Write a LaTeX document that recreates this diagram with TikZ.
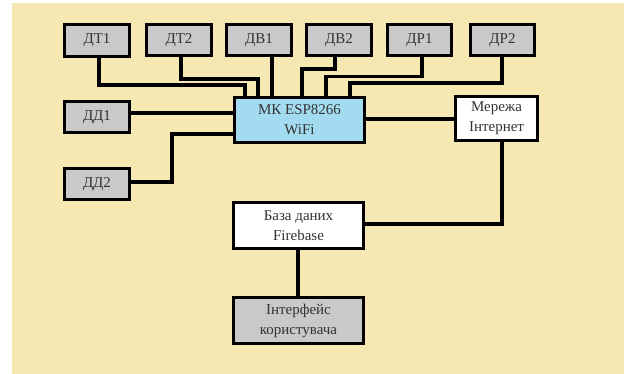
\documentclass[tikz,border=0pt]{standalone}
\usepackage{fontspec}
\setmainfont{Liberation Serif}
\definecolor{bgcream}{HTML}{F5E8B3}
\definecolor{boxgray}{HTML}{C9C9C9}
\definecolor{mkblue}{HTML}{A3DCF0}
\definecolor{txt}{HTML}{333333}
\tikzset{
  blk/.style={draw=black, line width=3.4pt, inner sep=0pt, align=center, text=txt,
    font=\fontsize{15}{20}\selectfont},
  sens/.style={blk, fill=boxgray, minimum width=64.5pt, minimum height=31.5pt},
  wide/.style={blk, minimum width=129.5pt, minimum height=44.5pt},
  wire/.style={line width=3.4pt, draw=black}
}
\begin{document}
\begin{tikzpicture}[x=1pt,y=-1pt]
\useasboundingbox (0,0) rectangle (624,374);
\fill[white] (0,0) rectangle (624,374);
\fill[bgcream] (12,3) rectangle (624,374);

\node[sens] (dt1) at (97,40.5) {ДТ1};
\node[sens] (dt2) at (179,40) {ДТ2};
\node[sens] (dv1) at (259,40) {ДВ1};
\node[sens] (dv2) at (339,40) {ДВ2};
\node[sens] (dr1) at (419.5,40) {ДР1};
\node[sens] (dr2) at (502.5,40) {ДР2};
\node[sens] (dd1) at (97,117) {ДД1};
\node[sens] (dd2) at (97,184) {ДД2};
\node[wide, fill=mkblue] (mk) at (299.5,120) {МК ESP8266\\WiFi};
\node[blk, fill=white, minimum width=81.5pt, minimum height=43.5pt] (net) at (496.5,118.5) {Мережа\\Інтернет};
\node[wide, fill=white, minimum height=45.5pt] (db) at (298.5,225.5) {База даних\\Firebase};
\node[wide, fill=boxgray, minimum height=45.5pt] (ui) at (298.5,320.5) {Інтерфейс\\користувача};

\draw[wire] (dt1.south -| 99,0) |- (245,85) -- (mk.north -| 245,0);
\draw[wire] (dt2.south -| 181,0) |- (258,79) -- (mk.north -| 258,0);
\draw[wire] (dv1.south -| 272,0) -- (mk.north -| 272,0);
\draw[wire] (dv2.south -| 335,0) |- (302,69) -- (mk.north -| 302,0);
\draw[wire] (dr1.south -| 422,0) |- (326,76.5) -- (mk.north -| 326,0);
\draw[wire] (dr2.south -| 502,0) |- (350,83) -- (mk.north -| 350,0);
\draw[wire] (dd1.east |- 0,113) -- (mk.west |- 0,113);
\draw[wire] (dd2.east |- 0,182) -| (172,134) -- (mk.west |- 0,134);
\draw[wire] (mk.east |- 0,119) -- (net.west |- 0,119);
\draw[wire] (net.south -| 502,0) |- (db.east |- 0,224);
\draw[wire] (db.south -| 298,0) -- (ui.north -| 298,0);
\end{tikzpicture}
\end{document}
